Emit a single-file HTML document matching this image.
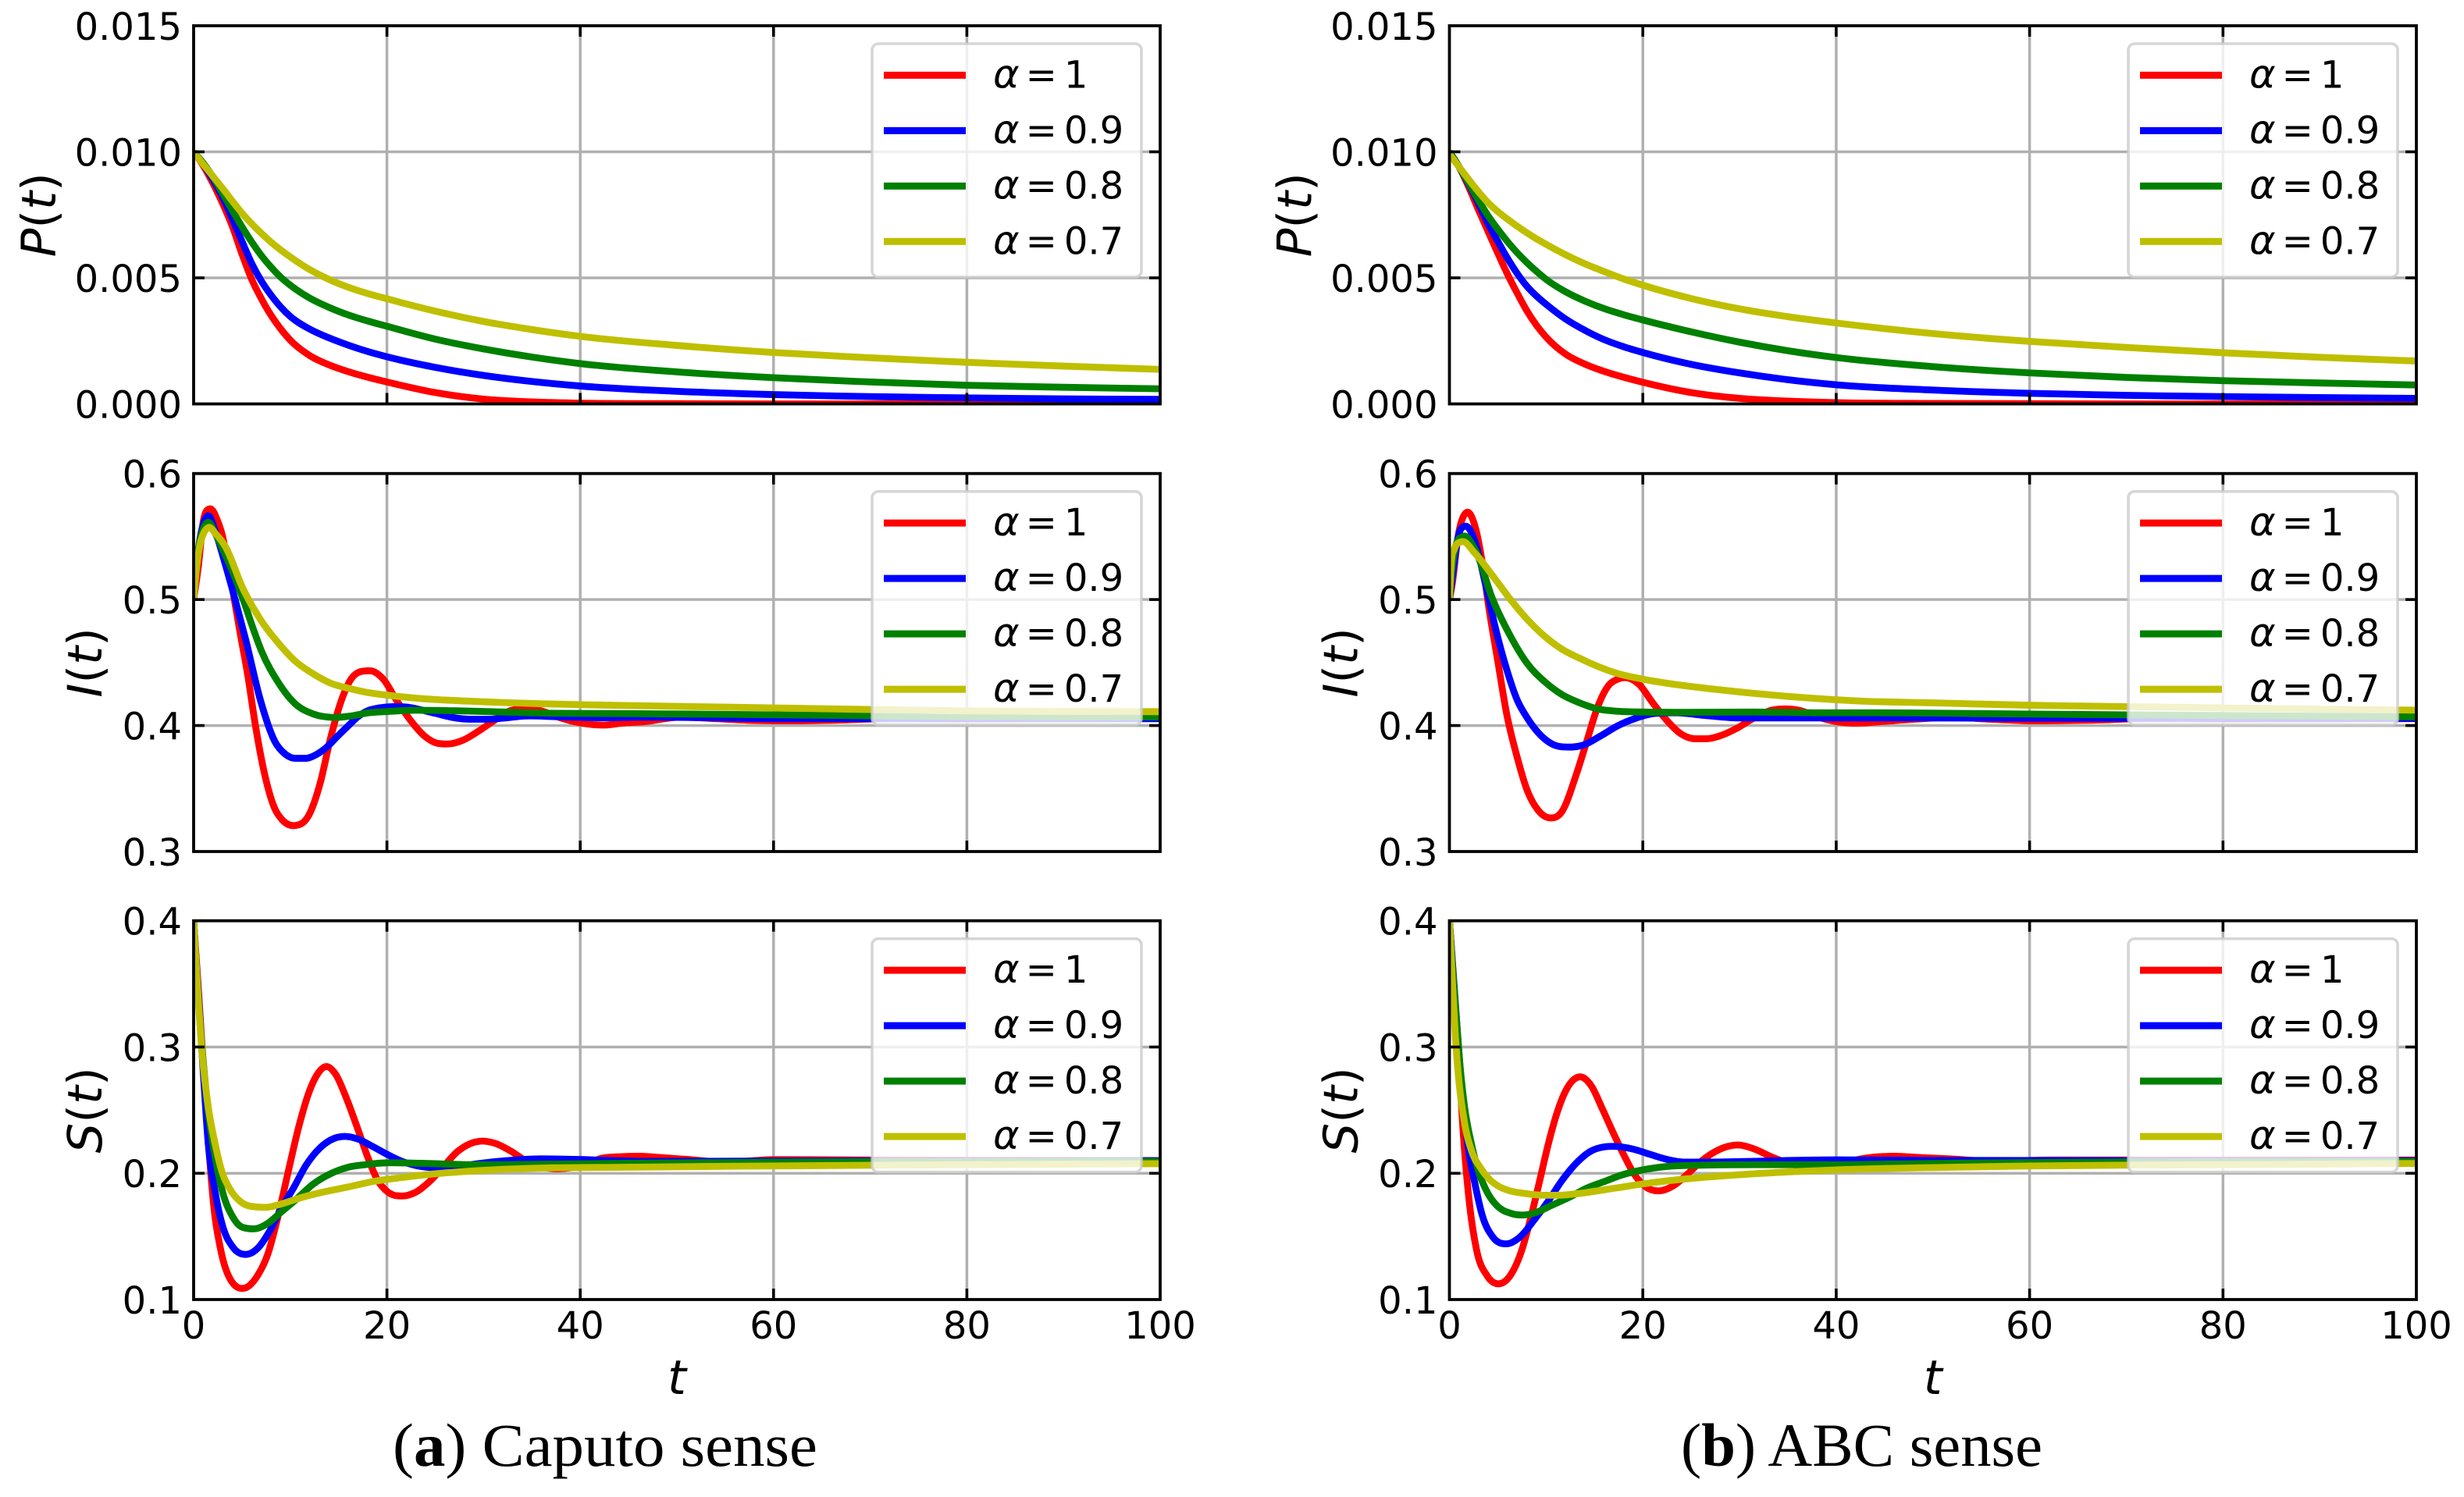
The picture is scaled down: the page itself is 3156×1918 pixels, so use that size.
<!DOCTYPE html>
<html lang="en">
<head>
<meta charset="utf-8">
<title>Caputo and ABC sense time series</title>
<style>
html,body{margin:0;padding:0;background:#fff;width:3156px;height:1918px;overflow:hidden}
svg{display:block;position:absolute;left:0;top:0}
text{font-family:"DejaVu Sans",sans-serif;fill:#000}
.cap{font-family:"Liberation Serif",serif;font-size:78px}
</style>
</head>
<body>
<svg id="fig" xmlns="http://www.w3.org/2000/svg" width="3156" height="1918" viewBox="0 0 3156 1918">
<rect width="3156" height="1918" fill="#fff"/>
<text class="cap" x="503" y="1878" textLength="544" lengthAdjust="spacingAndGlyphs">(<tspan font-weight="bold">a</tspan>) Caputo sense</text>
<text class="cap" x="2153" y="1878" textLength="463" lengthAdjust="spacingAndGlyphs">(<tspan font-weight="bold">b</tspan>) ABC sense</text>
</svg>
<script>
// ---------- shared labels ----------
const xTickValues=[0,20,40,60,80,100];
const alphaValues=['1','0.9','0.8','0.7'];
const seriesColors=['#ff0000','#0000ff','#008000','#bfbf00'];
const pTickLabels=['0.000','0.005','0.010','0.015'];
const iTickLabels=['0.3','0.4','0.5','0.6'];
const sTickLabels=['0.1','0.2','0.3','0.4'];

// ---------- P(t) ----------
const tP=[0,1,2,3,4,5,6,7,8,9,10,12,14,16,18,20,25,30,35,40,50,60,70,80,90,100];
const aP1=[.01,.00945,.00875,.00795,.00705,.00595,.00495,.00418,.00352,.00298,.00253,.00192,.00155,.00128,.00106,.00087,.00045,.00019,.00008,.00003,.00001,0,0,0,0,0];
const aP2=[.01,.0095,.0089,.0082,.00735,.00645,.00558,.00488,.00432,.00385,.00347,.00297,.00262,.00233,.00208,.00187,.00145,.00113,.00089,.00071,.0005,.00037,.00029,.00024,.0002,.00018];
const aP3=[.01,.00955,.009,.00835,.00768,.00703,.00643,.00589,.00543,.00503,.00471,.0042,.00383,.00353,.00329,.00308,.00257,.00218,.00186,.0016,.00127,.00104,.00087,.00074,.00066,.0006];
const aP4=[.01,.0095,.00903,.00855,.00805,.00757,.00715,.00677,.00642,.00611,.00583,.00533,.00494,.00463,.00438,.00417,.00368,.00327,.00295,.00268,.00232,.00204,.00183,.00165,.0015,.00137];
const bP1=[.01,.0094,.0086,.0077,.00684,.00598,.00515,.0044,.0037,.00312,.00265,.00198,.00158,.00129,.00106,.00086,.00045,.00022,.00011,.00005,.00002,.00001,0,0,0,0];
const bP2=[.01,.0094,.0087,.00795,.00715,.00645,.00578,.00518,.00467,.00428,.00395,.00337,.00292,.00255,.00227,.00204,.00157,.00123,.00096,.00076,.00055,.00042,.00034,.00029,.00025,.00022];
const bP3=[.01,.0094,.00875,.00808,.00746,.00693,.00644,.006,.00561,.00526,.00494,.00445,.00408,.00378,.00354,.00333,.00286,.00245,.00211,.00184,.00148,.00123,.00105,.00092,.00083,.00075];
const bP4=[.0099,.0094,.0089,.00842,.00798,.00763,.00733,.00705,.00679,.00655,.00633,.00592,.00556,.00525,.00496,.00471,.00418,.00377,.00346,.00321,.00279,.00248,.00224,.00203,.00185,.0017];

// ---------- I(t), Caputo ----------
const aI1t=[0,.5,1,1.7,2.5,3,3.5,4.1,4.8,5.6,6.4,7.3,8.4,9.1,10.45,12,13.1,14.15,15.2,16.3,17.4,18.3,19.6,21,22.45,23.9,25.3,26.4,27.9,29.7,31.1,32.5,34.2,35.8,37.6,39.4,41.2,42.6,44.4,46.6,50,54,58,62,66,72,80,100];
const aI1v=[.5,.527,.562,.572,.562,.55,.53,.505,.474,.44,.3998,.363,.334,.3257,.3206,.33,.3545,.3895,.418,.437,.443,.4434,.437,.42,.404,.3916,.3858,.3854,.3885,.3967,.404,.411,.4136,.412,.407,.403,.4008,.4004,.402,.403,.4065,.4055,.404,.4038,.4042,.4055,.4052,.4055];
const aI2t=[0,.3,.7,1.1,1.55,2.2,3.2,4.2,5.4,6.9,8.4,9.5,10.5,11.6,12.7,13.8,14.9,16,17,18.1,19.2,20.6,22.1,23.5,25,26.8,28.6,30.4,32.2,34.4,37.6,42,46,60,100];
const aI2v=[.5,.527,.55,.562,.5665,.555,.53,.5027,.4677,.4204,.3874,.3772,.374,.374,.377,.383,.3916,.3998,.407,.412,.414,.415,.4146,.4125,.4097,.4064,.405,.405,.406,.4076,.407,.4062,.4066,.4055,.4055];
const aI3t=[0,.3,.7,1.1,1.55,2.2,3,4.2,5.1,6.2,7,8.8,10.5,12.4,14.5,16.3,18.1,20,22.8,27.2,32.2,37.6,44.6,60,80,100];
const aI3v=[.5,.53,.548,.558,.5613,.553,.54,.519,.5006,.476,.4595,.4337,.4173,.4091,.4064,.4076,.4101,.4111,.4121,.4117,.4107,.4097,.4095,.4085,.407,.4068];
const aI4t=[0,.3,.7,1,1.55,2.3,3.3,5.1,6.9,8.75,10.5,12.4,14.15,16,17.8,20,23.5,28.6,35.8,44.6,60,80,100];
const aI4v=[.5,.525,.545,.552,.5572,.552,.5418,.5088,.4842,.4656,.4512,.4409,.4337,.4296,.4265,.4241,.4214,.4193,.4173,.4159,.414,.4116,.411];

// ---------- I(t), ABC ----------
const bI1t=[0,.3,.85,1.75,2.65,3.4,4.1,5,5.9,7,8.05,9.15,10.4,11.65,13.1,14.2,15.3,16.35,17.4,18.35,19.6,21,22.5,23.9,25.4,26.65,27.9,29.7,31.5,33.3,34.7,36.2,38,40.1,42.3,44.5,48,52,56,60,66,72,80,100];
const bI1v=[.5,.513,.548,.569,.558,.5294,.4924,.4512,.41,.375,.3484,.333,.3267,.3319,.3607,.3874,.4142,.4307,.4368,.4379,.4327,.4183,.4039,.3936,.3895,.3895,.3916,.3977,.406,.4121,.4132,.412,.407,.403,.4019,.403,.405,.4065,.405,.4038,.4042,.4055,.4052,.4055];
const bI2t=[0,.3,.85,1.65,2.65,3.7,4.8,5.9,7,8.05,9.15,10.6,12.4,13.8,15.6,17.4,19.2,21.4,23.6,26.45,30,35,45,60,100];
const bI2v=[.5,.517,.548,.5582,.5459,.513,.476,.4451,.4204,.406,.3946,.3854,.3829,.3844,.3916,.3998,.4056,.4097,.4101,.408,.406,.406,.406,.4058,.4056];
const bI3t=[0,.2,.5,1.4,2.65,4.45,6.25,8.05,9.85,11.65,13.5,15.3,17.1,20,24.3,31.5,38.7,43.9,60,80,100];
const bI3v=[.5,.52,.5377,.55,.5397,.5006,.4718,.4492,.4348,.4245,.4179,.4132,.4115,.4107,.4105,.4107,.4101,.4101,.4091,.4079,.4069];
const bI4t=[0,.15,.5,1.3,2.65,4.45,6.25,8.05,9.85,11.65,13.5,15.3,17.1,20,22.9,27.2,31.5,36.2,42.3,50,60,70,80,90,100];
const bI4v=[.5,.525,.54,.5459,.5366,.5191,.5006,.4842,.4708,.4605,.4533,.4471,.442,.4368,.4331,.429,.4255,.4224,.4195,.418,.4161,.415,.414,.413,.4122];

// ---------- S(t), Caputo ----------
const aS1t=[0,.5,1,1.5,2.07,2.8,3.9,5.3,6.6,7.65,8.75,9.8,10.9,12,12.9,13.7,14.7,15.8,16.9,17.95,19,20.1,21.55,23,24.4,25.9,27.3,28.6,29.85,31.3,32.9,34.35,36.15,38,40,42.3,44.4,46.25,48.4,51,55,60,70,100];
const aS1v=[.4,.345,.285,.228,.175,.1395,.1147,.1091,.1188,.1354,.1665,.2017,.2375,.2655,.2795,.2845,.2783,.2596,.2369,.2141,.1950,.1851,.182,.1851,.1934,.2058,.2172,.2234,.2255,.2234,.2172,.2099,.2048,.2037,.2058,.212,.2132,.2135,.2124,.211,.2088,.2108,.2105,.21];
const aS2t=[0,.5,1,1.5,2.25,3,4.05,5.5,6.75,7.85,9.1,10.4,11.6,13.1,14.5,15.6,17,18.5,20,21.4,23.2,25,26.8,29.3,32.2,35.8,39.4,46.6,60,100];
const aS2v=[.4,.34,.28,.2245,.184,.1582,.1416,.1358,.1416,.154,.1727,.1892,.2060,.2203,.2275,.2292,.2271,.2213,.2151,.2099,.2058,.2043,.2048,.2075,.2099,.2114,.211,.2094,.2097,.21];
const aS3t=[0,.3,.6,1,1.5,2.25,3,4.05,5.1,6.4,7.65,9.1,10.55,12.35,14.15,16,17.75,20,23.5,28.6,36,44.6,60,80,100];
const aS3v=[.4,.36,.325,.288,.25,.212,.1851,.1654,.1571,.1561,.1602,.1696,.1789,.1913,.1996,.2048,.2068,.2083,.2079,.2068,.2072,.2079,.2088,.2092,.2094];
const aS4t=[0,.27,.5,.8,1.5,2.25,3,3.7,4.8,6,7.65,9.1,11.25,13.4,16,18.5,21.4,25,28.6,34,44.6,60,80,100];
const aS4v=[.4,.365,.335,.302,.2534,.2224,.1996,.1882,.1778,.1737,.1731,.1758,.181,.1851,.1892,.1934,.1965,.1996,.2017,.2037,.2048,.2058,.2068,.2076];

// ---------- S(t), ABC ----------
const bS1t=[0,.5,1,1.4,2.1,2.8,3.9,5.25,6.45,7.5,8.4,9.3,10.2,11.1,12,12.9,13.7,14.7,15.8,16.9,18,19.05,20.3,21.75,23.2,24.65,26.1,27.5,28.8,29.9,31.5,33.3,35.1,37.3,39.4,42.3,45.9,48.8,51.7,56,62,70,100];
const bS1v=[.4,.345,.285,.235,.174,.1395,.1188,.1126,.1209,.1395,.1644,.1930,.2224,.2472,.2650,.2745,.2762,.2689,.2513,.2327,.2151,.2000,.1892,.1861,.1903,.1996,.2099,.2172,.2213,.2224,.2193,.213,.2079,.2048,.2048,.211,.2135,.2124,.2114,.2095,.2105,.2105,.2105];
const bS2t=[0,.5,1.2,1.9,2.65,3.4,4.45,5.9,7.35,8.8,10.2,11.65,13.1,14.55,16,17.1,18.9,20.7,22.5,24.3,26.8,31.5,38.7,50,100];
const bS2v=[.4,.347,.274,.2224,.1913,.1665,.1499,.1441,.1499,.1634,.1778,.1944,.2079,.2172,.2209,.2213,.2193,.2151,.211,.2089,.2089,.2095,.2106,.2102,.21];
const bS3t=[0,.3,.65,1.1,1.55,2.3,3,3.9,5,6.25,7.5,8.8,10.6,12.4,14.2,16,17.8,20,22.5,26.1,31.5,38.7,50,60,80,100];
const bS3v=[.4,.365,.33,.285,.2534,.2224,.2017,.1851,.1737,.1685,.1669,.1685,.1747,.181,.1882,.1934,.1986,.2027,.2054,.2064,.2068,.2068,.2078,.2085,.209,.2093];
const bS4t=[0,.3,.6,.85,1.55,2.3,3.2,4.1,5.2,6.25,7.7,9.85,11.3,13.5,17.1,20.7,24.3,31.5,40.1,51.9,60,80,100];
const bS4v=[.4,.353,.31,.284,.2405,.2175,.2045,.1955,.1892,.1861,.1841,.1826,.1826,.1841,.1882,.1923,.1954,.1996,.2027,.2048,.2058,.2068,.2078];

// ---------- layout ----------
const NS='http://www.w3.org/2000/svg';
const fig=document.getElementById('fig');
const columns=[
 {id:'caputo',x0:248,x1:1486},
 {id:'abc',x0:1856.5,x1:3095}
];
const rows=[
 {id:'p',top:33,bottom:517.5,dom:[0,.015],ticks:pTickLabels,sym:'P',labelX:71,series:[
   [[tP,aP1],[tP,aP2],[tP,aP3],[tP,aP4]],
   [[tP,bP1],[tP,bP2],[tP,bP3],[tP,bP4]]]},
 {id:'i',top:606.7,bottom:1091,dom:[.3,.6],ticks:iTickLabels,sym:'I',labelX:130,series:[
   [[aI1t,aI1v],[aI2t,aI2v],[aI3t,aI3v],[aI4t,aI4v]],
   [[bI1t,bI1v],[bI2t,bI2v],[bI3t,bI3v],[bI4t,bI4v]]]},
 {id:'s',top:1179.7,bottom:1665,dom:[.1,.4],ticks:sTickLabels,sym:'S',labelX:130,series:[
   [[aS1t,aS1v],[aS2t,aS2v],[aS3t,aS3v],[aS4t,aS4v]],
   [[bS1t,bS1v],[bS2t,bS2v],[bS3t,bS3v],[bS4t,bS4v]]]}
];

function mk(tag,attrs,parent){
  const e=document.createElementNS(NS,tag);
  for(const k in attrs)e.setAttribute(k,attrs[k]);
  if(parent)parent.appendChild(e);
  return e;
}
function smoothPath(px,py){
  const n=px.length,m=new Array(n),s=new Array(n-1);
  for(let i=0;i<n-1;i++)s[i]=(py[i+1]-py[i])/((px[i+1]-px[i])||1e-6);
  m[0]=s[0];m[n-1]=s[n-2];
  for(let i=1;i<n-1;i++){
    const h0=px[i]-px[i-1],h1=px[i+1]-px[i];
    const p=(s[i-1]*h1+s[i]*h0)/(h0+h1);
    const lim=Math.min(Math.abs(s[i-1]),Math.abs(s[i]))*(s[i-1]*s[i]<=0?1:3);
    m[i]=Math.sign(p)*Math.min(Math.abs(p),lim);
  }
  let d='M'+px[0].toFixed(2)+' '+py[0].toFixed(2);
  for(let i=0;i<n-1;i++){
    const h=(px[i+1]-px[i])/3;
    d+='C'+(px[i]+h).toFixed(2)+' '+(py[i]+m[i]*h).toFixed(2)+' '+(px[i+1]-h).toFixed(2)+' '+(py[i+1]-m[i+1]*h).toFixed(2)+' '+px[i+1].toFixed(2)+' '+py[i+1].toFixed(2);
  }
  return d;
}

columns.forEach(function(col,ci){
  rows.forEach(function(row,ri){
    const scaleX=function(t){return col.x0+(t/100)*(col.x1-col.x0);};
    const scaleY=function(v){return row.bottom-(v-row.dom[0])/(row.dom[1]-row.dom[0])*(row.bottom-row.top);};
    const pid=col.id+'-'+row.id;

    const g=mk('g',{},fig);
    
    

    const clip=mk('clipPath',{id:'clip-'+pid},g);
    mk('rect',{x:col.x0,y:row.top,width:col.x1-col.x0,height:row.bottom-row.top},clip);

    // grid
    xTickValues.forEach(function(t){
      if(t===0||t===100)return;
      const l=mk('line',{x1:scaleX(t),x2:scaleX(t),y1:row.top,y2:row.bottom,stroke:'#b0b0b0','stroke-width':3.5},g);
      
      
    });
    row.ticks.forEach(function(lbl){
      const v=parseFloat(lbl);
      if(v===row.dom[0]||v===row.dom[1])return;
      const l=mk('line',{x1:col.x0,x2:col.x1,y1:scaleY(v),y2:scaleY(v),stroke:'#b0b0b0','stroke-width':3.5},g);
      
      
    });

    // series
    const sg=mk('g',{'clip-path':'url(#clip-'+pid+')',fill:'none','stroke-width':8.8,'stroke-linejoin':'round'},g);
    row.series[ci].forEach(function(pair,si){
      const px=pair[0].map(scaleX),py=pair[1].map(scaleY);
      const p=mk('path',{d:smoothPath(px,py),stroke:seriesColors[si]},sg);
      
      
    });

    // ticks
    xTickValues.forEach(function(t){
      if(t===0||t===100)return;
      [[row.bottom,row.bottom-14],[row.top,row.top+14]].forEach(function(yy){
        const l=mk('line',{x1:scaleX(t),x2:scaleX(t),y1:yy[0],y2:yy[1],stroke:'#000','stroke-width':3.6},g);
        
        
      });
    });
    row.ticks.forEach(function(lbl){
      const v=parseFloat(lbl),y=scaleY(v);
      if(v!==row.dom[0]&&v!==row.dom[1]){
        [[col.x0,col.x0+14],[col.x1,col.x1-14]].forEach(function(xx){
          const l=mk('line',{x1:xx[0],x2:xx[1],y1:y,y2:y,stroke:'#000','stroke-width':3.6},g);
          
          
        });
      }
      const tx=mk('text',{x:col.x0-15,y:y+18,'text-anchor':'end','font-size':48},g);
      tx.textContent=lbl;
      
      
    });

    // spines
    const sp=mk('rect',{x:col.x0,y:row.top,width:col.x1-col.x0,height:row.bottom-row.top,fill:'none',stroke:'#000','stroke-width':3.8},g);
    
    

    // y label
    const lx=row.labelX+col.x0-248;
    const cy=(row.top+row.bottom)/2;
    const yl=mk('text',{x:lx,y:cy,'text-anchor':'middle','font-size':61,transform:'rotate(-90 '+lx+' '+cy+')'},g);
    
    
    const a1=mk('tspan',{'font-style':'italic'},yl);a1.textContent=row.sym;
    const a2=mk('tspan',{},yl);a2.textContent='(';
    const a3=mk('tspan',{'font-style':'italic'},yl);a3.textContent='t';
    const a4=mk('tspan',{},yl);a4.textContent=')';

    // legend
    const lg=mk('g',{},g);
    
    
    const lgX=col.x1-369,lgY=row.top+23;
    const box=mk('rect',{x:lgX,y:lgY,width:345,height:299,rx:8,ry:8,fill:'#fff','fill-opacity':.8,stroke:'#ccc','stroke-opacity':.8,'stroke-width':3.6},lg);
    
    
    alphaValues.forEach(function(a,si){
      const y=lgY+40.4+si*71;
      const sw=mk('line',{x1:lgX+15,x2:lgX+120,y1:y,y2:y,stroke:seriesColors[si],'stroke-width':9},lg);
      
      
      const t=mk('text',{x:lgX+155,y:y+16,'font-size':48},lg);
      
      
      const s1=mk('tspan',{'font-style':'italic','font-size':51},t);s1.textContent='α';
      const s2=mk('tspan',{dx:8},t);s2.textContent='=';
      const s3=mk('tspan',{dx:9},t);s3.textContent=a;
    });

    // x labels on bottom row
    if(ri===rows.length-1){
      xTickValues.forEach(function(t){
        const tl=mk('text',{x:scaleX(t),y:1715,'text-anchor':'middle','font-size':48},g);
        tl.textContent=String(t);
        
        
      });
      const xl=mk('text',{x:(col.x0+col.x1)/2,y:1786,'text-anchor':'middle','font-size':61,'font-style':'italic'},g);
      xl.textContent='t';
      
      
    }
  });
});
</script>
</body>
</html>
